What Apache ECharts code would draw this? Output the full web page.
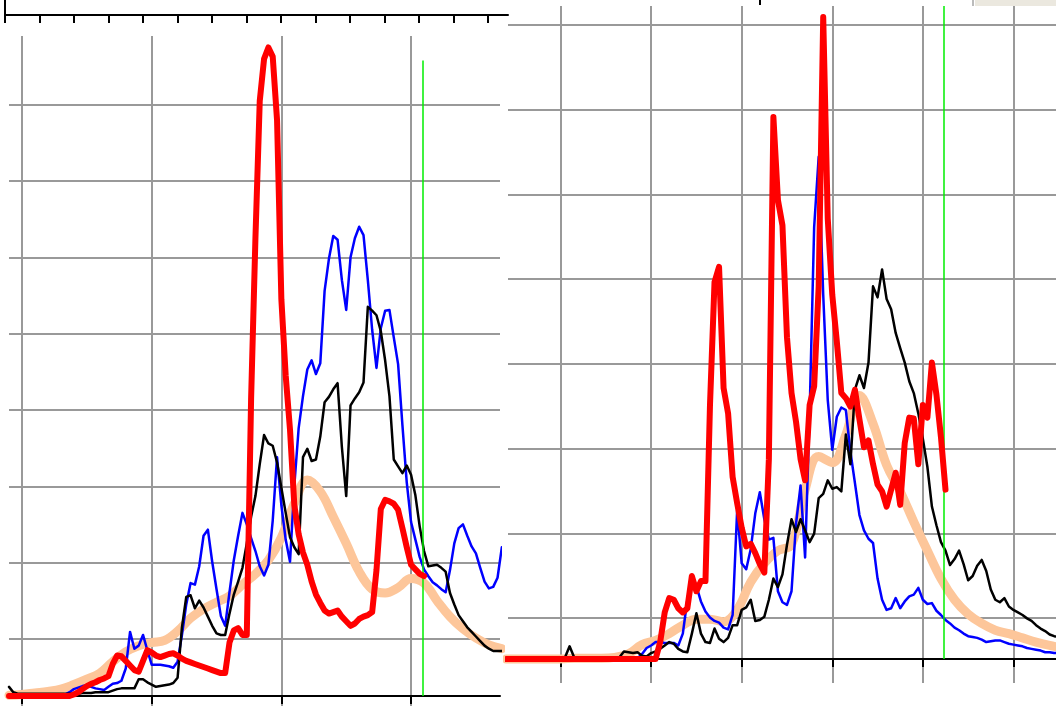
<!DOCTYPE html>
<html>
<head>
<meta charset="utf-8">
<title>chart</title>
<style>
html,body{margin:0;padding:0;background:#fff;}
#chart{width:1056px;height:706px;}
</style>
<script src="https://cdn.jsdelivr.net/npm/echarts@6.0.0/dist/echarts.min.js"></script>
</head>
<body>
<div id="chart"></div>
<script>
//left panel: one value per day, first day at x = -3
var leftStart = -3;
var leftRed = [0,0,0,0,0,0,0,0,0,0,0,0,0,0,0,
	2,5,9,13,16,18,21,23,26,
	42,53,52,46,40,34,32,
	46,60,57,53,51,53,55,56,53,49,
	46,44,42,40,38,36,34,32,30,30,
	70,86,89,80,80,390,600,780,835,850,
	838,755,520,420,349,250,212,188,172,150,
	133,122,112,108,110,112,104,98,92,95,
	101,104,106,110,165,245,257,255,252,244,
	220,195,172,166,160,157];
var leftBlack = [12,5,3,3,3,3,3,3,3,3,
	3,3,3,3,3,3,3,4,4,4,
	5,5,5,5,7,9,10,10,10,10,
	22,22,18,15,12,13,14,15,17,24,
	90,130,132,115,125,116,104,92,82,80,
	80,108,133,150,168,200,235,262,304,342,
	331,328,306,273,240,208,195,186,313,324,
	308,310,340,385,392,402,410,326,262,381,
	390,398,411,510,505,499,478,440,393,310,
	301,292,302,290,263,222,190,170,171,172,
	168,163,135,120,106,98,90,84,78,72,
	66,62,59,59,59];
var leftBlue = [2,2,2,2,2,2,2,2,2,2,
	2,2,2,2,5,9,11,13,14,12,
	10,9,8,12,16,17,20,36,84,62,
	66,80,60,41,41,41,40,39,37,45,
	80,120,148,146,170,210,218,176,140,105,
	92,136,178,210,240,225,207,190,170,158,
	172,230,313,250,205,176,276,351,393,428,
	440,422,436,531,573,603,598,545,506,575,
	600,615,604,545,480,430,482,505,506,470,
	435,355,280,228,205,182,166,157,149,145,
	140,136,165,200,220,225,210,196,187,168,
	150,141,143,155,195];
//smooth curve, one value every 3 days
var leftBeige = [1,2,4,6,9,15,22,30,45,58,66,70,73,85,102,114,123,131,146,160,
	178,208,252,283,268,235,200,163,140,135,142,154,148,125,104,88,76,67,62];

//right panel: first value at x = -12
var rightStart = -12;
var rightRed = [0,0,0,0,0,0,0,0,0,0,0,0,0,0,0,0,0,0,0,0,0,0,0,0,0,0,0,0,0,0,0,0,0,0,
	20,55,72,70,60,55,60,98,80,92,
	92,300,445,463,320,290,215,184,155,133,
	136,125,112,102,236,640,542,512,380,314,
	280,236,211,300,322,440,758,520,430,375,
	314,308,298,318,283,250,258,230,206,198,
	180,200,220,182,255,285,284,230,300,285,
	350,312,262,200];
var rightBlue = [0,0,0,0,0,0,0,0,0,0,0,0,0,0,0,0,0,0,0,0,0,0,0,0,0,0,0,0,0,
	1,6,13,16,20,20,19,19,19,16,
	30,70,99,86,68,56,49,45,43,37,
	35,52,176,113,106,130,172,197,165,141,
	143,80,67,64,80,160,205,120,290,510,
	593,430,306,247,286,297,294,245,208,170,
	152,142,137,95,70,58,60,72,60,68,
	74,76,84,70,65,66,57,52,46,42,
	37,34,30,27,26,25,23,20,21,22,
	22,20,18,17,16,15,13,12,11,10,
	8,8,7,7];
var rightBlack = [2,2,2,2,2,2,2,2,2,2,2,2,2,2,
	15,2,
	2,2,2,2,2,2,2,2,2,2,
	9,8,7,8,4,3,7,9,12,16,
	20,18,12,9,8,30,54,30,20,19,
	36,24,20,25,40,40,58,61,70,45,
	46,50,70,95,85,100,135,165,150,165,
	152,138,148,190,195,211,201,203,198,265,
	230,318,335,320,350,440,427,460,425,413,
	385,367,350,328,314,290,260,227,180,158,
	138,128,111,118,128,112,93,98,110,117,
	104,82,70,67,72,62,58,55,52,48,
	45,40,36,33,29,27,26];
var rightBeige = [0,0,0,0,0,1,1,1,2,6,17,22,30,40,47,47,44,58,91,113,128,
	135,200,239,232,265,311,278,229,198,162,128,95,70,53,42,34,30,25,20,16,13];

//grid lines and marker lines
var leftGridX = [0, 30, 60, 90];
var leftGridY = [74.7, 174.7, 274.7, 374.7, 474.7, 574.7, 674.7, 774.7];
var rightGridX = [0, 20, 40, 60, 80, 100];
var rightGridY = [48.4, 148.4, 248.4, 348.4, 448.4, 548.4, 648.4, 748.4];
var topTicks = [0,1,2,3,4,5,6,7,8,9,10,11,12,13,14];
var leftGreen = 92.7, leftGreenTop = 833;
var rightGreen = 84.7, rightGreenTop = 771;

var chart = echarts.init(document.getElementById('chart'));

//turn a value list into [x, y] pairs
function toPoints(start, step, vals){
	var out = [];
	for(var i = 0; i < vals.length; i++){
		out.push([start + i * step, vals[i]]);
	}
	return out;
}

function panelX(idx, min, max, ticks){
	return {
		type: 'value', gridIndex: idx, min: min, max: max,
		axisLine: {show: true, onZero: true, lineStyle: {color: '#000', width: 2}},
		axisTick: {show: true, customValues: ticks, length: 8, lineStyle: {color: '#000', width: 2}},
		axisLabel: {show: false},
		splitLine: {show: true, lineStyle: {color: '#999', width: 2}}
	};
}
function panelY(idx, min, max, ticks){
	return {
		type: 'value', gridIndex: idx, min: min, max: max,
		axisLine: {show: false},
		axisTick: {show: false, customValues: ticks},
		axisLabel: {show: false},
		splitLine: {show: true, lineStyle: {color: '#999', width: 2}}
	};
}
function lineSeries(idx, pts, color, width, z, smooth){
	return {
		type: 'line', xAxisIndex: idx, yAxisIndex: idx, data: pts,
		symbol: 'none', smooth: smooth || false, z: z, silent: true,
		lineStyle: {color: color, width: width, join: 'round', cap: 'round'}
	};
}
function greenLine(idx, x, top){
	return {
		type: 'line', xAxisIndex: idx, yAxisIndex: idx, data: [], z: 1, silent: true,
		markLine: {
			silent: true, symbol: ['none', 'none'], label: {show: false},
			lineStyle: {color: '#00ee00', width: 1.5, type: 'solid'},
			data: [[{coord: [x, 0]}, {coord: [x, top]}]]
		}
	};
}

var option = {
	animation: false,
	backgroundColor: '#fff',
	grid: [
		{left: 5, top: 0, width: 503, height: 15},
		{left: 9, top: 36, width: 491, height: 670},
		{left: 508, top: 6, width: 548, height: 677}
	],
	xAxis: [
		{
			type: 'value', gridIndex: 0, min: 0, max: 14.58,
			axisLine: {show: true, lineStyle: {color: '#000', width: 2}},
			axisTick: {show: true, customValues: topTicks, length: 8, lineStyle: {color: '#000', width: 2}},
			axisLabel: {show: false}, splitLine: {show: false}
		},
		panelX(1, -3, 110.57, leftGridX),
		panelX(2, -11.6, 109.4, rightGridX)
	],
	yAxis: [
		{
			type: 'value', gridIndex: 0, min: 0, max: 1,
			axisLine: {show: true, lineStyle: {color: '#000', width: 2}},
			axisTick: {show: false}, axisLabel: {show: false}, splitLine: {show: false}
		},
		panelY(1, -13.1, 865, leftGridY),
		panelY(2, -28.3, 771, rightGridY)
	],
	graphic: [
		{type: 'rect', shape: {x: 975, y: 0, width: 81, height: 6}, style: {fill: '#ebe8df'}},
		{type: 'line', shape: {x1: 973, y1: 0, x2: 973, y2: 6}, style: {stroke: '#bbb', lineWidth: 2}},
		{type: 'line', shape: {x1: 760, y1: 0, x2: 760, y2: 5}, style: {stroke: '#000', lineWidth: 2}}
	],
	series: [
		greenLine(1, leftGreen, leftGreenTop),
		lineSeries(1, toPoints(leftStart, 3, leftBeige), '#fdc69a', 9, 2, 0.4),
		lineSeries(1, toPoints(leftStart, 1, leftBlue), '#0000ff', 2.5, 3),
		lineSeries(1, toPoints(leftStart, 1, leftBlack), '#000000', 2.5, 4),
		lineSeries(1, toPoints(leftStart, 1, leftRed), '#ff0000', 6, 5),
		greenLine(2, rightGreen, rightGreenTop),
		lineSeries(2, toPoints(rightStart, 3, rightBeige), '#fdc69a', 9, 2, 0.4),
		lineSeries(2, toPoints(rightStart, 1, rightBlue), '#0000ff', 2.5, 3),
		lineSeries(2, toPoints(rightStart, 1, rightBlack), '#000000', 2.5, 4),
		lineSeries(2, toPoints(rightStart, 1, rightRed), '#ff0000', 6, 5)
	]
};
chart.setOption(option);
</script>
</body>
</html>
